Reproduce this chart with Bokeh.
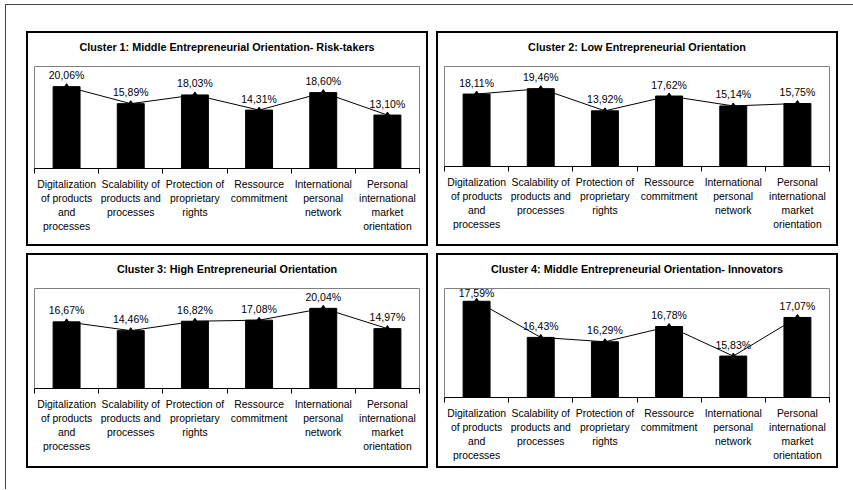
from bokeh.plotting import figure
from bokeh.layouts import row, column
from bokeh.models import Range1d, FixedTicker, ColumnDataSource, Title
from bokeh.core.properties import value
from bokeh.embed import file_html
from bokeh.resources import INLINE

# Factors (wrapped the way they are printed under each axis)
categories = [
    "Digitalization\nof products\nand\nprocesses",
    "Scalability of\nproducts and\nprocesses",
    "Protection of\nproprietary\nrights",
    "Ressource\ncommitment",
    "International\npersonal\nnetwork",
    "Personal\ninternational\nmarket\norientation",
]

titles = [
    "Cluster 1: Middle Entrepreneurial Orientation- Risk-takers",
    "Cluster 2: Low Entrepreneurial Orientation",
    "Cluster 3: High Entrepreneurial Orientation",
    "Cluster 4: Middle Entrepreneurial Orientation- Innovators",
]

# Share of each factor per cluster, in percent
cluster1 = [20.06, 15.89, 18.03, 14.31, 18.60, 13.10]
cluster2 = [18.11, 19.46, 13.92, 17.62, 15.14, 15.75]
cluster3 = [16.67, 14.46, 16.82, 17.08, 20.04, 14.97]
cluster4 = [17.59, 16.43, 16.29, 16.78, 15.83, 17.07]

# Value axis extent of each panel
y_extents = [(0, 25), (0, 25), (0, 25), (14.5, 18)]

FONT = "Liberation Sans"
PANEL_W, PANEL_H = 402, 215
FRAME_TOP = 35
frame_heights = [102, 100, 100, 109]


def panel(title, values, y_extent, frame_h):
    y0, y1 = y_extent
    n = len(values)
    xs = list(range(1, n + 1))
    labels = [f"{v:.2f}".replace(".", ",") + "%" for v in values]
    # keep value labels inside the plotting area
    offsets = []
    for v in values:
        dist_top = (y1 - v) / (y1 - y0) * frame_h
        offsets.append(-min(11.5, dist_top - 4.5))

    src = ColumnDataSource(dict(x=xs, y=values, label=labels, off=offsets))

    p = figure(
        width=PANEL_W, height=PANEL_H,
        x_range=Range1d(0.5, n + 0.5), y_range=Range1d(y0, y1),
        y_axis_location=None, toolbar_location=None, tools="",
        output_backend="svg", title=None,
        min_border_left=8, min_border_right=9,
        min_border_top=FRAME_TOP, min_border_bottom=PANEL_H - FRAME_TOP - frame_h,
        styles={"box-shadow": "inset 0 0 0 2px #000"},
    )
    p.border_fill_color = None
    p.background_fill_color = "white"
    p.outline_line_color = "#808080"
    p.outline_line_width = 1
    p.grid.visible = False

    # gap between heading and plotting area, then the heading itself
    p.add_layout(Title(text=" ", text_font_size="1px", standoff=11), "above")
    p.add_layout(Title(text=title, align="center", standoff=0,
                       text_font=FONT, text_font_style="bold",
                       text_font_size="10.8px", text_color="#000"), "above")

    p.vbar(x="x", top="y", bottom=y0, width=0.42, source=src,
           fill_color="black", line_color="black")
    p.line(x="x", y="y", source=src, line_color="black", line_width=1)
    p.scatter(x="x", y="y", source=src, marker="diamond", size=6,
              fill_color="black", line_color="black")
    p.text(x="x", y="y", text="label", y_offset="off", source=src,
           text_align="center", text_baseline="middle",
           text_font=value(FONT), text_font_size="10.5px", text_color="#000")

    # category axis: names centred under the bars, ticks at the boundaries
    ax = p.xaxis[0]
    ax.ticker = FixedTicker(ticks=xs, minor_ticks=[i + 0.5 for i in range(n + 1)])
    ax.major_label_overrides = {x: c for x, c in zip(xs, categories)}
    ax.major_tick_line_color = None
    ax.major_tick_out = 0
    ax.major_tick_in = 0
    ax.minor_tick_line_color = "black"
    ax.minor_tick_out = 5
    ax.minor_tick_in = 0
    ax.axis_line_color = "black"
    ax.axis_line_width = 1
    ax.major_label_standoff = 5
    ax.major_label_text_font = FONT
    ax.major_label_text_font_size = "10.4px"
    ax.major_label_text_color = "#000"
    ax.major_label_text_line_height = 1.3
    ax.major_label_orientation = "horizontal"
    return p


series = [cluster1, cluster2, cluster3, cluster4]
plots = [panel(t, s, e, h) for t, s, e, h in zip(titles, series, y_extents, frame_heights)]

left = column(plots[0], plots[2], spacing=7)
right = column(plots[1], plots[3], spacing=7)
grid = row(left, right, spacing=8, margin=(26, 15, 21, 20))
page = column(grid, margin=(4, 0, 0, 5),
              styles={"border-left": "1px solid #444", "border-top": "1px solid #444"})

open("out.html", "w").write(file_html(page, INLINE))
